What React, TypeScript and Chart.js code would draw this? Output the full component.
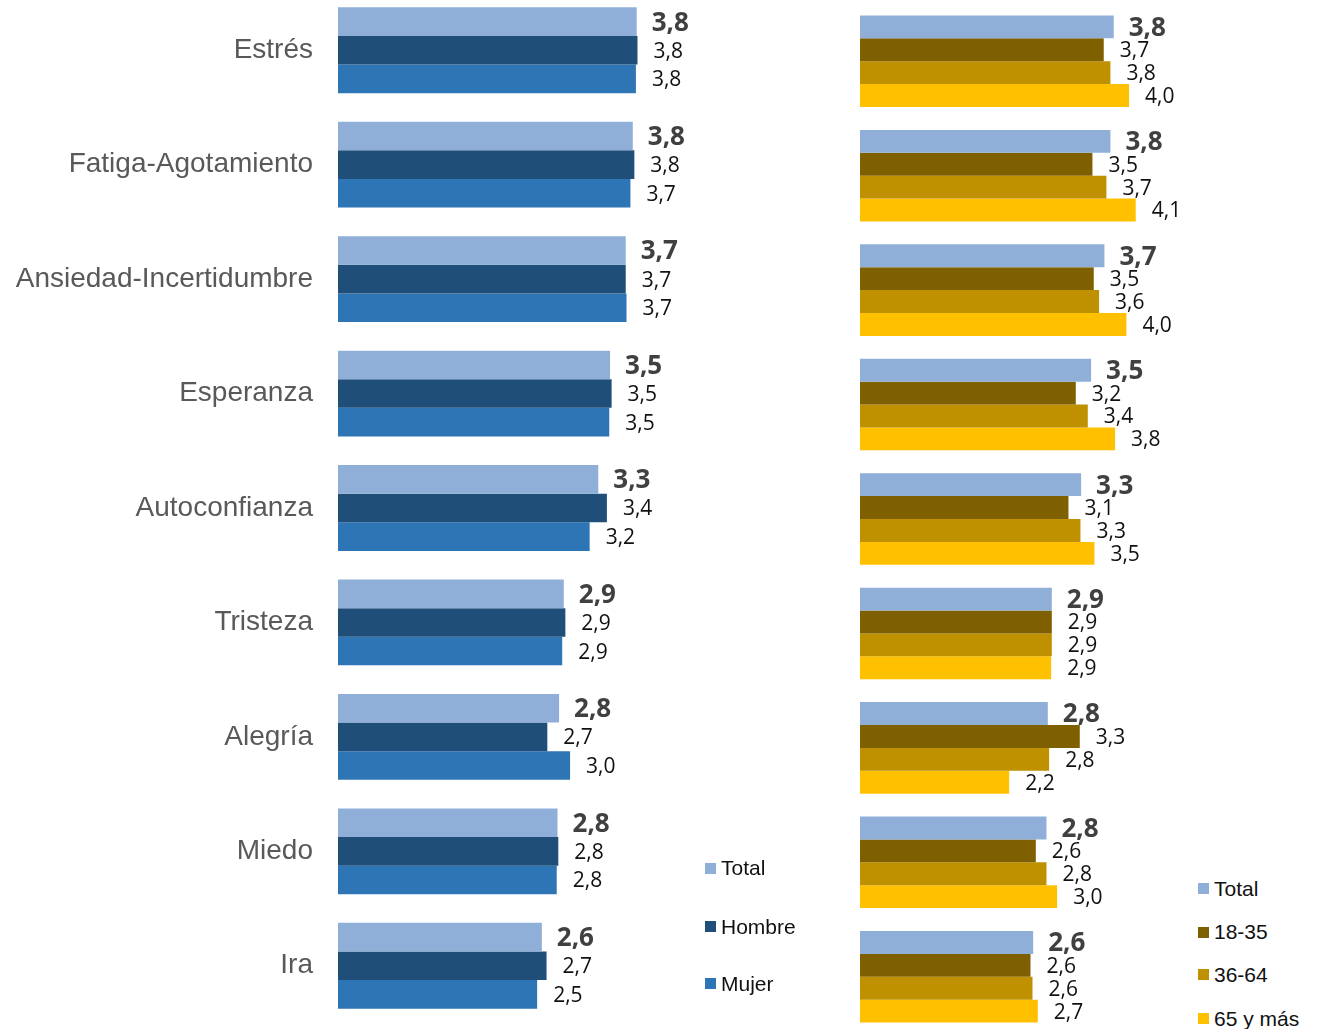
import React, { useEffect, useRef } from 'react';
import { Chart, registerables } from 'chart.js';

Chart.register(...registerables);

const categories = [
  'Estrés',
  'Fatiga-Agotamiento',
  'Ansiedad-Incertidumbre',
  'Esperanza',
  'Autoconfianza',
  'Tristeza',
  'Alegría',
  'Miedo',
  'Ira',
];

const totalValues = [3.81, 3.76, 3.67, 3.47, 3.32, 2.88, 2.82, 2.8, 2.6];
const hombreValues = [3.82, 3.78, 3.67, 3.49, 3.43, 2.9, 2.67, 2.81, 2.66];
const mujerValues = [3.8, 3.73, 3.68, 3.46, 3.21, 2.86, 2.96, 2.79, 2.54];

const age1835Values = [3.66, 3.49, 3.51, 3.24, 3.13, 2.88, 3.3, 2.64, 2.56];
const age3664Values = [3.76, 3.7, 3.59, 3.42, 3.31, 2.88, 2.84, 2.8, 2.59];
const age65Values = [4.04, 4.14, 4.0, 3.83, 3.52, 2.87, 2.24, 2.96, 2.67];

const sexSeries = ['Total', 'Hombre', 'Mujer'];
const ageSeries = ['Total', '18-35', '36-64', '65 y más'];

const sexColors = ['#8FAFD9', '#1F4E79', '#2E75B6'];
const ageColors = ['#8FAFD9', '#7F6000', '#BF9000', '#FFC000'];

const fmt = (v: number) => v.toFixed(1).replace('.', ',');

function makeLabelPlugin(regularSize: number) {
  return {
    id: 'valueLabels',
    afterDatasetsDraw(chart: any) {
      const ctx = chart.ctx;
      ctx.save();
      chart.data.datasets.forEach((ds: any, di: number) => {
        const meta = chart.getDatasetMeta(di);
        if (meta.hidden) return;
        meta.data.forEach((el: any, i: number) => {
          const v = ds.data[i] as number;
          let dx = 15;
          if (di === 0) {
            ctx.font = 'bold 26px "Open Sans"';
            ctx.fillStyle = '#404040';
          } else {
            ctx.font = `${regularSize}px "Open Sans"`;
            ctx.fillStyle = '#111111';
            dx = 16;
          }
          ctx.textAlign = 'left';
          ctx.textBaseline = 'middle';
          ctx.fillText(fmt(v), el.x + dx, el.y + 1.5);
        });
      });
      ctx.restore();
    },
  };
}

function useBarChart(
  ref: React.RefObject<HTMLCanvasElement>,
  seriesNames: string[],
  seriesData: number[][],
  colors: string[],
  catPct: number,
  showLabels: boolean,
  regularSize: number
) {
  useEffect(() => {
    if (!ref.current) return;
    const chart = new Chart(ref.current, {
      type: 'bar',
      data: {
        labels: categories,
        datasets: seriesNames.map((name, i) => ({
          label: name,
          data: seriesData[i],
          backgroundColor: colors[i],
          borderWidth: 0,
          barPercentage: 1,
          categoryPercentage: catPct,
        })),
      },
      options: {
        indexAxis: 'y',
        animation: false,
        responsive: false,
        maintainAspectRatio: false,
        layout: { padding: 0 },
        plugins: {
          legend: { display: false },
          tooltip: { enabled: false },
        },
        scales: {
          x: { min: 0, max: 5, display: false },
          y: showLabels
            ? {
                grid: { display: false, drawTicks: false },
                border: { display: false },
                ticks: {
                  padding: 25,
                  autoSkip: false,
                  color: '#595959',
                  font: { family: '"Liberation Sans", Arial, sans-serif', size: 28 },
                },
                afterFit: (s: any) => {
                  s.width = 338;
                  s.paddingTop = 0;
                  s.paddingBottom = 0;
                },
              }
            : { display: false },
        },
      },
      plugins: [makeLabelPlugin(regularSize)],
    } as any);
    return () => chart.destroy();
  }, []);
}

function Legend({
  names,
  colors,
  left,
  tops,
}: {
  names: string[];
  colors: string[];
  left: number;
  tops: number[];
}) {
  return (
    <>
      {names.map((n, i) => (
        <div
          key={n}
          style={{
            position: 'absolute',
            left,
            top: tops[i] - 12,
            height: 24,
            display: 'flex',
            alignItems: 'center',
            fontFamily: '"Liberation Sans", Arial, sans-serif',
            fontSize: 21,
            lineHeight: '24px',
            color: '#111111',
            whiteSpace: 'nowrap',
          }}
        >
          <span
            style={{
              display: 'inline-block',
              width: 11,
              height: 11,
              background: colors[i],
              marginRight: 5,
            }}
          />
          <span>{n}</span>
        </div>
      ))}
    </>
  );
}

export default function App() {
  const leftRef = useRef<HTMLCanvasElement>(null);
  const rightRef = useRef<HTMLCanvasElement>(null);

  useBarChart(leftRef, sexSeries, [totalValues, hombreValues, mujerValues], sexColors, 0.75, true, 21);
  useBarChart(
    rightRef,
    ageSeries,
    [totalValues, age1835Values, age3664Values, age65Values],
    ageColors,
    0.8,
    false,
    21
  );

  return (
    <div
      style={{
        position: 'absolute',
        left: 0,
        top: 0,
        width: 1324,
        height: 1029,
        overflow: 'hidden',
        background: '#ffffff',
      }}
    >
      <canvas
        ref={leftRef}
        width={730}
        height={1030}
        style={{ position: 'absolute', left: 0, top: -7, width: 730, height: 1030 }}
      />
      <canvas
        ref={rightRef}
        width={333}
        height={1030}
        style={{ position: 'absolute', left: 860, top: 4, width: 333, height: 1030 }}
      />
      <Legend names={sexSeries} colors={sexColors} left={705} tops={[868, 926.5, 983.5]} />
      <Legend names={ageSeries} colors={ageColors} left={1198} tops={[888.5, 932, 974.5, 1018.5]} />
    </div>
  );
}
